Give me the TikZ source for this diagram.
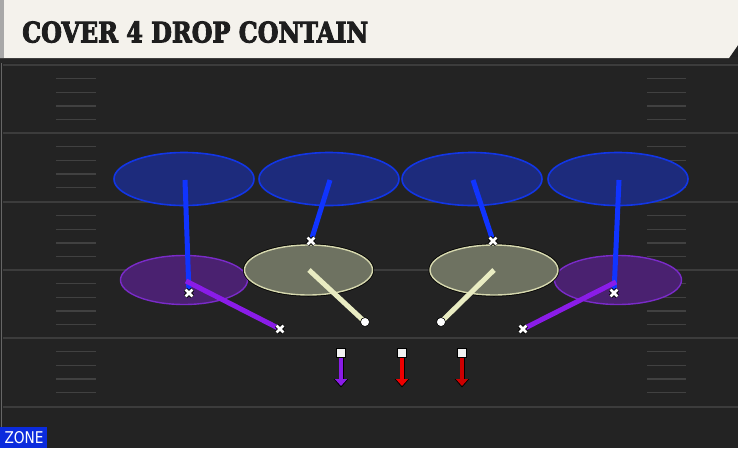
\documentclass[tikz,border=0pt]{standalone}
\usepackage{fontspec}
\usepackage{graphicx}
\newfontfamily\titlefont[BoldFeatures={FakeBold=3.5}]{DejaVu Serif}
\newfontfamily\zonefont{DejaVu Sans}
\usetikzlibrary{arrows.meta,shapes.geometric,calc}
\definecolor{fieldbg}{HTML}{232323}
\definecolor{yardln}{HTML}{3C3C3C}
\definecolor{hashln}{HTML}{414141}
\definecolor{cream}{HTML}{F4F2EC}
\definecolor{titlegray}{HTML}{A8A8A8}
\definecolor{titletext}{HTML}{1E1E1E}
\definecolor{bluefill}{HTML}{1D2B7C}
\definecolor{blueedge}{HTML}{1236E6}
\definecolor{blueline}{HTML}{1034FF}
\definecolor{purplefill}{HTML}{4A2170}
\definecolor{purpleedge}{HTML}{7A2BC9}
\definecolor{purpleline}{HTML}{8A1CE8}
\definecolor{tanfill}{HTML}{6E7261}
\definecolor{tanedge}{HTML}{D6D8AE}
\definecolor{tanline}{HTML}{E9ECC2}
\definecolor{redA}{HTML}{EE0000}
\definecolor{redB}{HTML}{CC0000}
\definecolor{zoneblue}{HTML}{0B2BDD}
\tikzset{
  x=1pt, y=-1pt,
  deepzone/.style={ellipse, draw=blueedge, line width=1.6pt, fill=bluefill, minimum width=140pt, minimum height=53pt, inner sep=0pt},
  hookzone/.style={ellipse, draw=purpleedge, line width=1.4pt, fill=purplefill, minimum width=127pt, minimum height=49pt, inner sep=0pt},
  flatzone/.style={ellipse, draw=tanedge, line width=1.4pt, fill=tanfill, minimum width=128pt, minimum height=50pt, inner sep=0pt, preaction={draw=black, line width=3pt}},
  bluepath/.style={draw=blueline, line width=5pt},
  purplepath/.style={draw=purpleline, line width=5pt},
  tanpath/.style={draw=tanline, line width=5pt},
  dotend/.style={circle, fill=white, draw=black, line width=0.6pt, minimum size=9pt, inner sep=0pt},
  sqmark/.style={rectangle, fill=white!90!gray, draw=black, line width=0.7pt, minimum size=9pt, inner sep=0pt},
  rusharrow/.style={line width=3.6pt, -{Triangle[length=7pt,width=12pt]}},
  rushshadow/.style={draw=black, line width=5pt, -{Triangle[length=8.5pt,width=14pt]}},
  yardline/.style={draw=yardln, line width=1.6pt},
  hashline/.style={draw=hashln, line width=1.3pt},
}
\newcommand{\drawX}[1]{%
  \draw[black, line width=4.4pt] ($(#1)+(-3.6,-3.6)$) -- ($(#1)+(3.6,3.6)$) ($(#1)+(-3.6,3.6)$) -- ($(#1)+(3.6,-3.6)$);
  \draw[white, line width=2.6pt] ($(#1)+(-3.4,-3.4)$) -- ($(#1)+(3.4,3.4)$) ($(#1)+(-3.4,3.4)$) -- ($(#1)+(3.4,-3.4)$);}
\begin{document}
\begin{tikzpicture}
\useasboundingbox (0,0) rectangle (738,448);
% field background
\fill[fieldbg] (0,0) rectangle (738,448);
\fill[black!85] (0,57) rectangle (738,63);
\draw[draw=black!60!white, line width=1.5pt] (1.5,63) -- (1.5,448);
% yard lines
\foreach \yy in {65,133,202,270,338,407} {
  \draw[yardline] (3,\yy) -- (738,\yy);
}
% hash marks
\foreach \yy in {65,133,202,270,338} {
  \foreach \k in {1,2,3,4} {
    \draw[hashline] (56,\yy+\k*13.7) -- (96,\yy+\k*13.7);
    \draw[hashline] (647,\yy+\k*13.7) -- (686,\yy+\k*13.7);
  }
}
% title bar
\fill[cream] (0,0) -- (738,0) -- (738,45) -- (729,58) -- (0,58) -- cycle;
\fill[titlegray] (0,0) rectangle (4,58);
\node[anchor=south west, inner sep=0pt, text=titletext] (title) at (22,43)
  {\resizebox{346pt}{21pt}{\titlefont\bfseries COVER 4 DROP CONTAIN}};
% zones
\node[deepzone] (d1) at (184,179) {};
\node[deepzone] (d2) at (329,179) {};
\node[deepzone] (d3) at (472,179) {};
\node[deepzone] (d4) at (618,179) {};
\node[hookzone] (h1) at (184,280) {};
\node[hookzone] (h2) at (618,280) {};
\node[flatzone] (f1) at (308.5,270) {};
\node[flatzone] (f2) at (494,270) {};
% player positions
\coordinate (pA) at (189,293);
\coordinate (pB) at (311,241);
\coordinate (pC) at (493,241);
\coordinate (pD) at (614,293);
\coordinate (pE) at (280,329);
\coordinate (pF) at (523,329);
\coordinate (bA) at (185,180);
\coordinate (bB) at (330,180);
\coordinate (bC) at (473,180);
\coordinate (bD) at (619,180);
\coordinate (uA) at (186,281);
\coordinate (uB) at (616,282);
\coordinate (tA) at (309,270);
\coordinate (tB) at (494,270);
% assignments
\draw[bluepath] (pA) -- (bA);
\draw[bluepath] (pB) -- (bB);
\draw[bluepath] (pC) -- (bC);
\draw[bluepath] (pD) -- (bD);
\draw[purplepath] (pE) -- (uA);
\draw[purplepath] (pF) -- (uB);
\node[dotend] (c1) at (365,322) {};
\node[dotend] (c2) at (441,322) {};
\draw[tanpath] (c1.center) -- (tA);
\draw[tanpath] (c2.center) -- (tB);
\node[dotend] at (365,322) {};
\node[dotend] at (441,322) {};
\drawX{pA}
\drawX{pB}
\drawX{pC}
\drawX{pD}
\drawX{pE}
\drawX{pF}
% rushers
\node[sqmark] (r1) at (341,353) {};
\node[sqmark] (r2) at (402,353) {};
\node[sqmark] (r3) at (462,353) {};
\coordinate (e1) at (341,386);
\coordinate (e2) at (402,386);
\coordinate (e3) at (462,386);
\draw[rushshadow] (r1.south) -- ($(e1)+(0,1.5)$);
\draw[rushshadow] (r2.south) -- ($(e2)+(0,1.5)$);
\draw[rushshadow] (r3.south) -- ($(e3)+(0,1.5)$);
\draw[rusharrow, purpleline] (r1.south) -- (e1);
\draw[rusharrow, redA] (r2.south) -- (e2);
\draw[rusharrow, redB] (r3.south) -- (e3);
\node[sqmark] at (341,353) {};
\node[sqmark] at (402,353) {};
\node[sqmark] at (462,353) {};
% zone label
\fill[zoneblue] (0,427) rectangle (47,448);
\node[text=white, inner sep=0pt, anchor=center] (zone) at (24,437.5)
  {\resizebox{39pt}{12pt}{\zonefont ZONE}};
\end{tikzpicture}
\end{document}
